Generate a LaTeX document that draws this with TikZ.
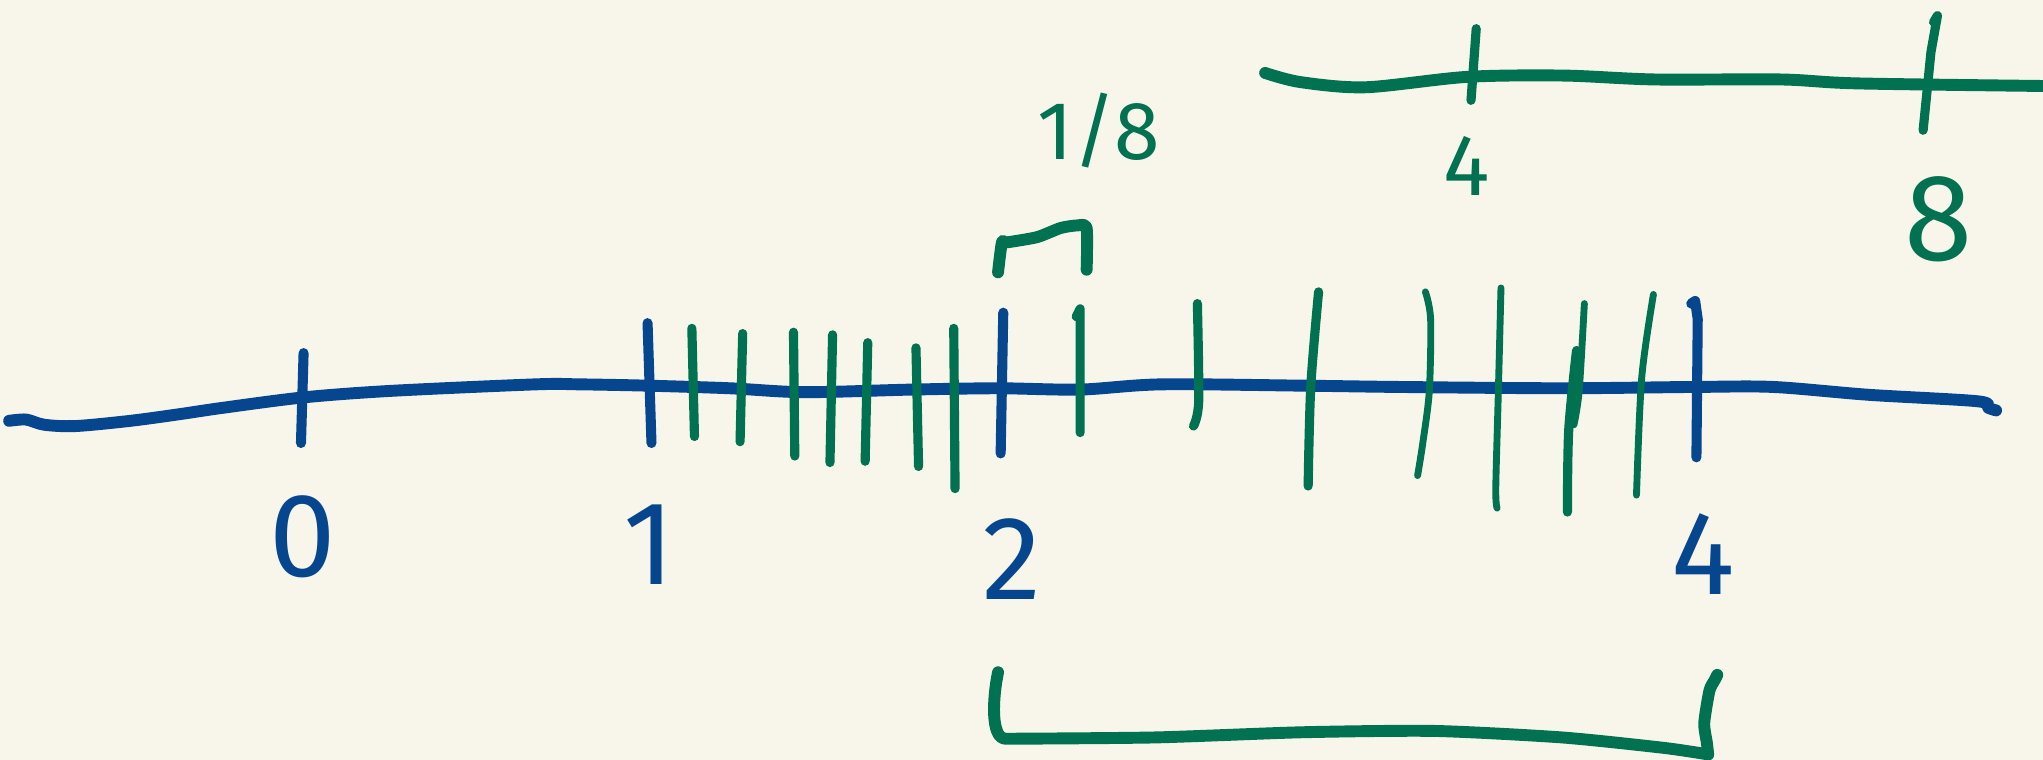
\documentclass[tikz,border=0pt]{standalone}
\usepackage{fontspec}
\setsansfont{Fira Sans}
\definecolor{paper}{HTML}{F8F6EA}
\definecolor{penblue}{HTML}{05468F}
\definecolor{pengreen}{HTML}{007151}
\tikzset{
  blueline/.style={penblue, line width=2.6pt, line cap=round, line join=round},
  bluetick/.style={penblue, line width=2.2pt, line cap=round, line join=round},
  greenline/.style={pengreen, line width=2.6pt, line cap=round, line join=round},
  greentick/.style={pengreen, line width=2pt, line cap=round, line join=round},
  thintick/.style={pengreen, line width=1.5pt, line cap=round, line join=round},
  bluelabel/.style={penblue, inner sep=0pt, font=\sffamily\fontsize{26}{26}\selectfont},
  greenlabel/.style={pengreen, inner sep=0pt, font=\sffamily\fontsize{27}{27}\selectfont},
}
\begin{document}
\begin{tikzpicture}[x=0.1mm, y=-0.1mm]
        % Paper
        \fill[paper] (0,0) rectangle (1568,583);
        \useasboundingbox (0,0) rectangle (1568,583);
        % Number line
        \draw[blueline] plot[smooth, tension=0.5] coordinates {(7,323) (20,322) (34,326) (58,327) (100,323)
            (137,318) (171,313) (233,305) (300,300) (411,295) (445,295) (497,296) (560,298) (617,301)
            (700,299) (766,298) (829,299) (891,295) (1000,296) (1074,297) (1200,298) (1300,297)
            (1361,297) (1434,303) (1518,308) (1526,313) (1532,315)};
        % Whole number ticks
        \draw[bluetick] (233,271) -- (231,340);
        \draw[bluetick] (497,248) -- (500,340);
        \draw[bluetick] (770,240) -- (768,348);
        \draw[bluetick] (1298,233) -- (1301,231) -- (1303,245) -- (1302,351);
        \node[bluelabel] (zero) at (232,412) {0};
        \node[bluelabel] (one) at (498,418) {1};
        \node[bluelabel] (two) at (777,429) {2};
        \node[bluelabel] (four) at (1307,425) {4};
        % Eighths between 1 and 2
        \foreach \xa/\ya/\xb/\yb in {531/252/533/335, 570/256/568/339, 609/255/610/350, 639/257/637/355,
            666/263/664/354, 703/267/705/358, 732/252/733/375}
            \draw[greentick] (\xa,\ya) -- (\xb,\yb);
        % Eighths between 2 and 4
        \draw[greentick] (826,243) -- (829,237) -- (829,332);
        \draw[greentick] plot[smooth] coordinates {(919,233) (920,308) (916,327)};
        \draw[greentick] plot[smooth] coordinates {(1012,224) (1006,297) (1004,373)};
        \draw[thintick] plot[smooth] coordinates {(1094,224) (1098,245) (1097,300) (1092,340) (1088,365)};
        \draw[thintick] plot[smooth] coordinates {(1152,221) (1150,300) (1148,375) (1149,390)};
        \draw[thintick] plot[smooth] coordinates {(1216,233) (1212,300) (1208,326)};
        \draw[greentick] plot[smooth] coordinates {(1210,269) (1204,330) (1203,393)};
        \draw[thintick] plot[smooth] coordinates {(1269,226) (1260,290) (1256,380)};
        % One eighth step
        \draw[greenline] plot[smooth, tension=0.4] coordinates {(766,209) (769,186) (773,186) (796,182)
            (814,175) (827,173) (834,175) (834,207)};
        \node[greenlabel, font=\sffamily\fontsize{18}{18}\selectfont] (eighth) at (843,100) {1/8};
        % Zoomed out line
        \draw[greenline] plot[smooth, tension=0.5] coordinates {(971,56) (998,63) (1048,67) (1126,59)
            (1200,58) (1270,61) (1367,61) (1425,64) (1568,66)};
        \draw[greentick] (1133,22) -- (1129,77);
        \draw[greentick] (1484,17) -- (1487,12) -- (1482,40) -- (1476,100);
        \node[greenlabel, font=\sffamily\fontsize{19}{19}\selectfont] (gfour) at (1126,127) {4};
        \node[greenlabel] (geight) at (1488,168) {8};
        % Bracket from 2 to 4
        \draw[greenline] (766,516) .. controls (762,535) and (760,567) .. (772,567)
            -- plot[smooth, tension=0.4] coordinates {(772,567) (886,566) (1000,562) (1101,561)
            (1199,566) (1277,574) (1311,579)};
        \draw[greenline] plot[smooth, tension=0.4] coordinates {(1311,579) (1310,570) (1308,555)
            (1312,530) (1316,522) (1318,518)};
\end{tikzpicture}
\end{document}
